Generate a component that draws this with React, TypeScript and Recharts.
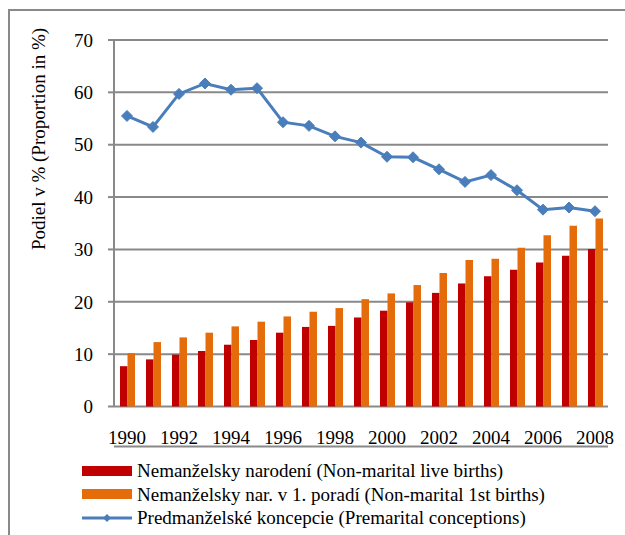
import { ComposedChart, Bar, Line, XAxis, YAxis, CartesianGrid, Legend } from 'recharts';

const years = ['1990', '1991', '1992', '1993', '1994', '1995', '1996', '1997', '1998', '1999', '2000', '2001', '2002', '2003', '2004', '2005', '2006', '2007', '2008'];
const nonMaritalLive = [7.7, 9.0, 9.9, 10.6, 11.8, 12.7, 14.1, 15.2, 15.4, 17.0, 18.3, 19.9, 21.7, 23.5, 24.9, 26.1, 27.5, 28.8, 30.1];
const nonMaritalFirst = [10.2, 12.3, 13.2, 14.1, 15.3, 16.2, 17.2, 18.1, 18.8, 20.5, 21.6, 23.2, 25.5, 28.0, 28.2, 30.3, 32.7, 34.5, 35.9];
const premarital = [55.5, 53.4, 59.7, 61.7, 60.5, 60.8, 54.3, 53.6, 51.6, 50.4, 47.7, 47.6, 45.3, 42.9, 44.2, 41.3, 37.6, 38.0, 37.3];
const yTicks = [0, 10, 20, 30, 40, 50, 60, 70];

const seriesNames = {
  live: 'Nemanželsky narodení (Non-marital live births)',
  first: 'Nemanželsky nar. v 1. poradí (Non-marital 1st births)',
  pre: 'Predmanželské koncepcie (Premarital conceptions)',
};

const RED = '#C00000';
const ORANGE = '#E46C0A';
const BLUE = '#4A7EBB';
const GRID = '#898989';
const FONT = 'Liberation Serif, Times New Roman, serif';
const FS = 19;

const data = years.map((year, i) => ({
  year,
  live: nonMaritalLive[i],
  first: nonMaritalFirst[i],
  pre: premarital[i],
}));

const boundaryTicks = [...years.map((_, i) => i), years.length];

const Diamond = (props: any) => {
  const { cx, cy } = props;
  if (cx == null || cy == null) return null;
  const r = 5.5;
  return <path d={`M${cx},${cy - r}L${cx + r},${cy}L${cx},${cy + r}L${cx - r},${cy}Z`} fill={BLUE} stroke={BLUE} strokeWidth={1} />;
};

const LegendContent = () => {
  const rows = [
    { key: 'live', type: 'bar', color: RED },
    { key: 'first', type: 'bar', color: ORANGE },
    { key: 'pre', type: 'line', color: BLUE },
  ];
  return (
    <div style={{ fontFamily: FONT, fontSize: FS, color: '#000', lineHeight: '23.5px' }}>
      {rows.map((r) => (
        <div key={r.key} style={{ display: 'flex', alignItems: 'center', whiteSpace: 'nowrap' }}>
          <svg width={55} height={14} style={{ flex: 'none' }}>
            {r.type === 'bar' ? (
              <rect x={0} y={2} width={50} height={10} fill={r.color} />
            ) : (
              <g>
                <line x1={0} y1={7} x2={50} y2={7} stroke={r.color} strokeWidth={3} />
                <path d="M25,3L29,7L25,11L21,7Z" fill={r.color} />
              </g>
            )}
          </svg>
          <span>{(seriesNames as any)[r.key]}</span>
        </div>
      ))}
    </div>
  );
};

const YTitle = (props: any) => {
  const { viewBox } = props;
  const x = 38;
  const y = viewBox.y + 99;
  return (
    <text x={x} y={y} transform={`rotate(-90, ${x}, ${y})`} textAnchor="middle" dominantBaseline="central" fontFamily={FONT} fontSize={FS} fill="#000">
      Podiel v % (Proportion in %)
    </text>
  );
};

export default function App() {
  return (
    <div style={{ position: 'absolute', left: 0, top: 0, width: 625, height: 535, background: '#fff', overflow: 'hidden' }}>
      <div style={{ position: 'absolute', left: 8, top: 9, width: 700, height: 600, borderLeft: `2px solid ${GRID}`, borderTop: `2px solid ${GRID}` }} />
      <ComposedChart
        width={625}
        height={535}
        data={data}
        margin={{ top: 40, right: 17, left: 0, bottom: 17 }}
        barGap={0}
        style={{ position: 'absolute', left: 0, top: 0 }}
      >
        <CartesianGrid vertical={false} stroke={GRID} strokeWidth={2} />
        <XAxis
          xAxisId="ticks"
          type="number"
          domain={[0, years.length]}
          ticks={boundaryTicks}
          tick={false}
          tickSize={6}
          height={1}
          axisLine={{ stroke: GRID, strokeWidth: 2 }}
          tickLine={{ stroke: GRID, strokeWidth: 2 }}
          allowDataOverflow
        />
        <XAxis
          dataKey="year"
          interval={1}
          tickLine={false}
          axisLine={false}
          tickSize={0}
          tickMargin={24}
          height={40}
          tick={{ fontFamily: FONT, fontSize: FS, fill: '#000' }}
        />
        <YAxis
          domain={[0, 70]}
          ticks={yTicks}
          width={114}
          tickSize={6}
          tickMargin={15}
          axisLine={{ stroke: GRID, strokeWidth: 2 }}
          tickLine={{ stroke: GRID, strokeWidth: 2 }}
          tick={{ fontFamily: FONT, fontSize: FS, fill: '#000' }}
          label={<YTitle />}
        />
        <Bar dataKey="live" name={seriesNames.live} fill={RED} barSize={7.5} isAnimationActive={false} />
        <Bar dataKey="first" name={seriesNames.first} fill={ORANGE} barSize={7.5} isAnimationActive={false} />
        <Line
          dataKey="pre"
          name={seriesNames.pre}
          stroke={BLUE}
          strokeWidth={3}
          dot={<Diamond />}
          activeDot={false}
          isAnimationActive={false}
        />
        <Legend
          layout="vertical"
          align="center"
          verticalAlign="bottom"
          content={<LegendContent />}
          wrapperStyle={{ left: 82, top: 459, width: 543, bottom: 'auto' }}
        />
      </ComposedChart>
    </div>
  );
}
